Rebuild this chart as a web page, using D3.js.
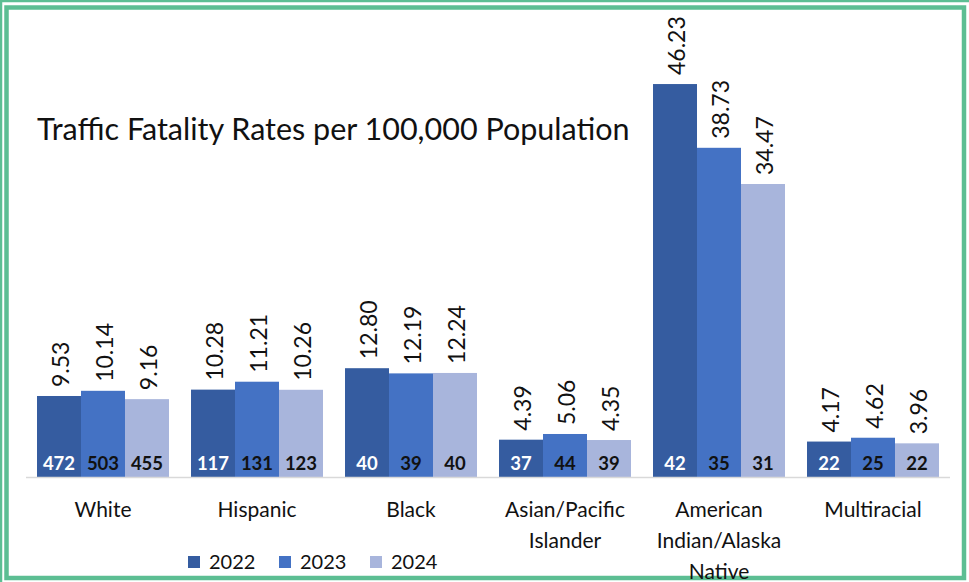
<!DOCTYPE html>
<html>
<head>
<meta charset="utf-8">
<script src="https://cdn.jsdelivr.net/npm/d3@7"></script>
<style>
  html, body { margin: 0; padding: 0; background: #fff; }
  svg text { font-family: Lato, "Open Sans", sans-serif; }
</style>
</head>
<body>
<svg id="chart" width="969" height="582"></svg>
<script>
// ---- data ----
const categories = ["White", "Hispanic", "Black", "Asian/Pacific Islander", "American Indian/Alaska Native", "Multiracial"];
const category_lines = [["White"], ["Hispanic"], ["Black"], ["Asian/Pacific", "Islander"], ["American", "Indian/Alaska", "Native"], ["Multiracial"]];
const years = ["2022", "2023", "2024"];
const rates_2022 = [9.53, 10.28, 12.80, 4.39, 46.23, 4.17];
const rates_2023 = [10.14, 11.21, 12.19, 5.06, 38.73, 4.62];
const rates_2024 = [9.16, 10.26, 12.24, 4.35, 34.47, 3.96];
const counts_2022 = [472, 117, 40, 37, 42, 22];
const counts_2023 = [503, 131, 39, 44, 35, 25];
const counts_2024 = [455, 123, 40, 39, 31, 22];
const title = "Traffic Fatality Rates per 100,000 Population";

const rates = [rates_2022, rates_2023, rates_2024];
const counts = [counts_2022, counts_2023, counts_2024];
const colors = ["#355ca0", "#4472c4", "#a8b5dc"];
const count_colors = ["#ffffff", "#111111", "#111111"];
const frame_color = "#5cbe93";

const svg = d3.select("#chart");
const margin = {left: 26, right: 19, top: 52, bottom: 105};
const W = 969, H = 582;
const base_y = H - margin.bottom;

// ---- frame ----
svg.append("line").attr("x1", 0).attr("x2", W).attr("y1", 1).attr("y2", 1)
  .attr("stroke", frame_color).attr("stroke-width", 2.5);
svg.append("line").attr("x1", 1).attr("x2", 1).attr("y1", 0).attr("y2", H)
  .attr("stroke", frame_color).attr("stroke-width", 2.5);
svg.append("rect")
  .attr("x", 6.5).attr("y", 7.5).attr("width", 957.5).attr("height", 570.5)
  .attr("fill", "none").attr("stroke", frame_color).attr("stroke-width", 4.5);

// ---- scales ----
const x0 = d3.scaleBand()
  .domain(categories)
  .range([margin.left, W - margin.right])
  .paddingInner(0.143).paddingOuter(0.0715);

const x1 = d3.scaleBand()
  .domain(years)
  .range([0, x0.bandwidth()]);

const y = d3.scaleLinear()
  .domain([0, 50])
  .range([base_y, margin.top]);

// ---- bars ----
const rows = [];
categories.forEach((c, i) => {
  years.forEach((yr, j) => {
    rows.push({cat: c, year: yr, j, rate: rates[j][i], count: counts[j][i]});
  });
});

const g = svg.append("g");

g.selectAll("rect.bar")
  .data(rows)
  .enter().append("rect")
  .attr("class", "bar")
  .attr("x", d => x0(d.cat) + x1(d.year))
  .attr("y", d => y(d.rate))
  .attr("width", x1.bandwidth())
  .attr("height", d => base_y - y(d.rate))
  .attr("fill", d => colors[d.j]);

// axis line
svg.append("line")
  .attr("x1", margin.left).attr("x2", W - margin.right)
  .attr("y1", base_y + 0.5).attr("y2", base_y + 0.5)
  .attr("stroke", "#d9d9d9").attr("stroke-width", 1.5);

// rotated rate labels
g.selectAll("text.rate")
  .data(rows)
  .enter().append("text")
  .attr("class", "rate")
  .attr("transform", d => `translate(${x0(d.cat) + x1(d.year) + x1.bandwidth() / 2 + 1},${y(d.rate) - 9}) rotate(-90)`)
  .attr("dominant-baseline", "central")
  .attr("text-anchor", "start")
  .style("font-size", "23px")
  .attr("fill", "#111")
  .text(d => d3.format(".2f")(d.rate));

// counts inside bars
g.selectAll("text.count")
  .data(rows)
  .enter().append("text")
  .attr("class", "count")
  .attr("x", d => x0(d.cat) + x1(d.year) + x1.bandwidth() / 2)
  .attr("y", base_y - 7)
  .attr("text-anchor", "middle")
  .style("font-size", "18.5px")
  .style("font-weight", "bold")
  .attr("fill", d => count_colors[d.j])
  .text(d => d.count);

// ---- category labels ----
const cat_g = svg.append("g");
categories.forEach((c, i) => {
  const t = cat_g.append("text")
    .attr("x", x0(c) + x0.bandwidth() / 2)
    .attr("y", 517)
    .attr("text-anchor", "middle")
    .style("font-size", "21px")
    .attr("fill", "#111");
  category_lines[i].forEach((ln, k) => {
    t.append("tspan")
      .attr("x", x0(c) + x0.bandwidth() / 2)
      .attr("dy", k === 0 ? 0 : 31)
      .text(ln);
  });
});

// ---- title ----
svg.append("text")
  .attr("x", 37)
  .attr("y", 140)
  .style("font-size", "30.5px")
  .attr("fill", "#111")
  .text(title);

// ---- legend ----
const legend_x = d3.scalePoint().domain(years).range([188, 370]);
const legend = svg.append("g").selectAll("g")
  .data(years)
  .enter().append("g")
  .attr("transform", d => `translate(${legend_x(d)},556)`);
legend.append("rect")
  .attr("width", 12).attr("height", 12)
  .attr("fill", (d, i) => colors[i]);
legend.append("text")
  .attr("x", 21).attr("y", 13)
  .style("font-size", "20px")
  .attr("fill", "#111")
  .text(d => d);
</script>
</body>
</html>
